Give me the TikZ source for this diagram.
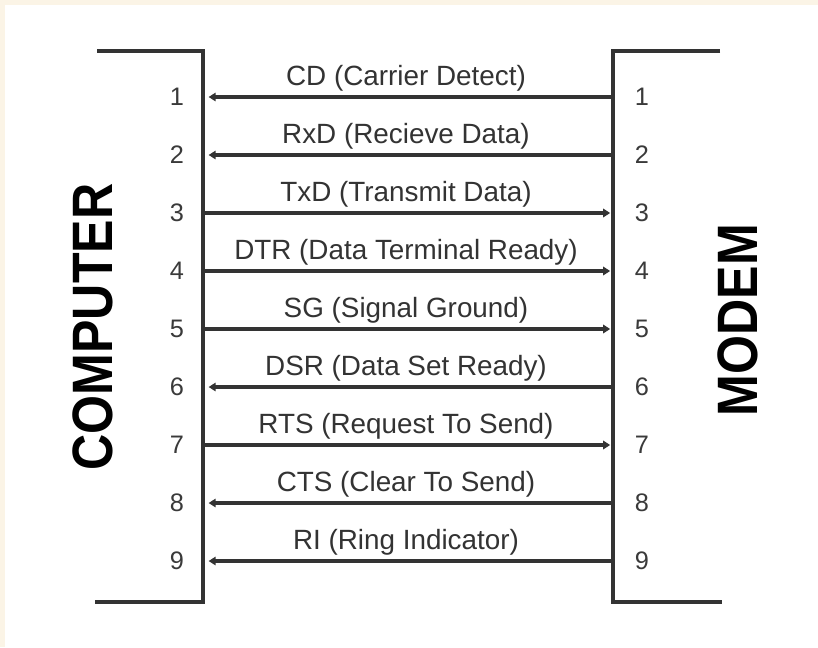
\documentclass[tikz,border=0pt]{standalone}
\usepackage{fontspec}
\setmainfont{Liberation Sans}
\usepackage{tikz}
\usetikzlibrary{arrows.meta}
\definecolor{wiregrey}{HTML}{333333}
\definecolor{pintext}{HTML}{3A3A3A}
\definecolor{pagecream}{HTML}{FBF4E6}

\begin{document}
\begin{tikzpicture}[x=0.025cm,y=-0.025cm,
    bracketline/.style={wiregrey,line width=3.2pt},
    wire/.style={wiregrey,line width=2.5pt},
    tocomp/.style={{Triangle[length=5pt,width=6pt]}-,shorten <=4pt},
    tomodem/.style={-{Triangle[length=5pt,width=6pt]},shorten >=2pt},
    pinnum/.style={text=pintext,font=\fontsize{18}{18}\selectfont,inner sep=0pt},
    siglabel/.style={anchor=base,text=wiregrey,font=\fontsize{19.8}{20}\selectfont,inner sep=0pt},
    sidetitle/.style={rotate=90,xscale=0.88,font=\fontsize{40.5}{41}\selectfont\bfseries,inner sep=0pt}]
    \fill[pagecream] (0,0) rectangle (818,647);
    \fill[white] (5,5) rectangle (818,647);
    \draw[bracketline] (97,51) -- (203,51) -- (203,602) -- (95,602);
    \draw[bracketline] (720,51) -- (613,51) -- (613,602) -- (722,602);
    \foreach \n/\sig/\dir in {1/CD (Carrier Detect)/tocomp, 2/RxD (Recieve Data)/tocomp,
        3/TxD (Transmit Data)/tomodem, 4/DTR (Data Terminal Ready)/tomodem,
        5/SG (Signal Ground)/tomodem, 6/DSR (Data Set Ready)/tocomp,
        7/RTS (Request To Send)/tomodem, 8/CTS (Clear To Send)/tocomp,
        9/RI (Ring Indicator)/tocomp} {
      \coordinate (c\n) at (203,{39+58*\n});
      \coordinate (m\n) at (613,{39+58*\n});
      \node[pinnum] (cpin\n) at (177,{39+58*\n}) {\n};
      \node[pinnum] (mpin\n) at (642,{39+58*\n}) {\n};
      \node[siglabel] (sig\n) at (406,{27+58*\n}) {\sig};
      \draw[wire,\dir] (c\n) -- (m\n);
    }
    \node[sidetitle] (computer) at (93,327) {COMPUTER};
    \node[sidetitle] (modem) at (738,320) {MODEM};
\end{tikzpicture}
\end{document}
